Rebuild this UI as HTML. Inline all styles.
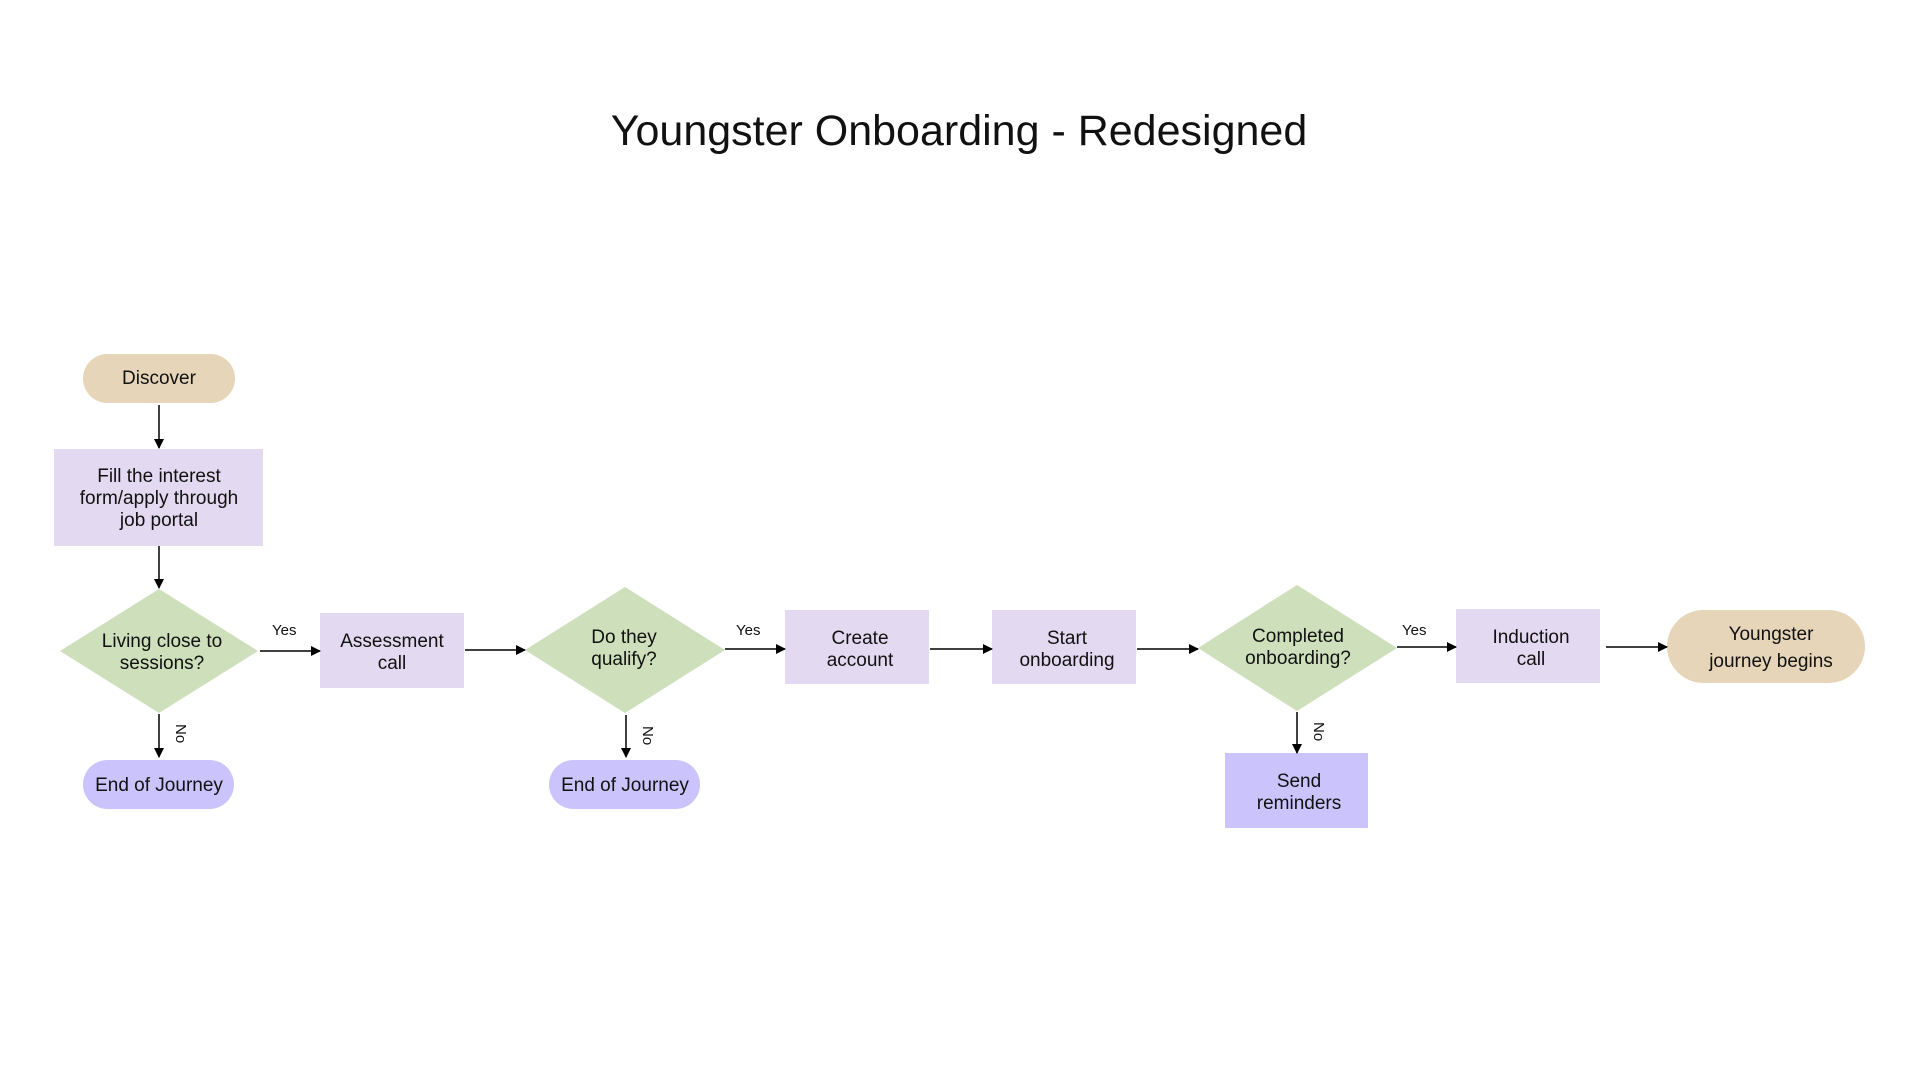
<!DOCTYPE html>
<html><head><meta charset="utf-8"><style>
body{margin:0;width:1920px;height:1080px;background:#fff;overflow:hidden}
svg text{font-family:"Liberation Sans",sans-serif;fill:#111}
</style></head><body>
<svg width="1920" height="1080" viewBox="0 0 1920 1080">
<defs><marker id="a" markerWidth="10" markerHeight="10" refX="9" refY="5" orient="auto" markerUnits="userSpaceOnUse"><path d="M0,0 L10,5 L0,10 z" fill="#000"/></marker></defs>
<text x="959" y="145" font-size="43" text-anchor="middle">Youngster Onboarding - Redesigned</text>
<g font-size="19" text-anchor="middle">
<rect x="83" y="354" width="152" height="49" rx="24.5" fill="#e6d5b8"/><text x="159" y="384">Discover</text>
<rect x="54" y="449" width="209" height="97" fill="#e3d9f0"/><text x="159" y="482">Fill the interest</text><text x="159" y="504">form/apply through</text><text x="159" y="526">job portal</text>
<polygon points="159,589 258,651 159,713 60,651" fill="#cddfbb"/><text x="162" y="647">Living close to</text><text x="162" y="669">sessions?</text>
<rect x="320" y="613" width="144" height="75" fill="#e3d9f0"/><text x="392" y="647">Assessment</text><text x="392" y="669">call</text>
<polygon points="625,587 725,650 625,713 525,650" fill="#cddfbb"/><text x="624" y="643">Do they</text><text x="624" y="665">qualify?</text>
<rect x="785" y="610" width="144" height="74" fill="#e3d9f0"/><text x="860" y="644">Create</text><text x="860" y="666">account</text>
<rect x="992" y="610" width="144" height="74" fill="#e3d9f0"/><text x="1067" y="644">Start</text><text x="1067" y="666">onboarding</text>
<polygon points="1297,585 1397,648 1297,711 1198,648" fill="#cddfbb"/><text x="1298" y="642">Completed</text><text x="1298" y="664">onboarding?</text>
<rect x="1456" y="609" width="144" height="74" fill="#e3d9f0"/><text x="1531" y="643">Induction</text><text x="1531" y="665">call</text>
<rect x="1667" y="610" width="198" height="73" rx="36.5" fill="#e6d5b8"/><text x="1771" y="640">Youngster</text><text x="1771" y="667">journey begins</text>
<rect x="83" y="760" width="151" height="49" rx="24.5" fill="#cbc3fb"/><text x="159" y="791">End of Journey</text>
<rect x="549" y="760" width="151" height="49" rx="24.5" fill="#cbc3fb"/><text x="625" y="791">End of Journey</text>
<rect x="1225" y="753" width="143" height="75" fill="#cbc3fb"/><text x="1299" y="787">Send</text><text x="1299" y="809">reminders</text>
</g>
<g stroke="#000" stroke-width="1.5" marker-end="url(#a)">
<line x1="159" y1="405" x2="159" y2="448"/>
<line x1="159" y1="546" x2="159" y2="588"/>
<line x1="260" y1="651" x2="320" y2="651"/>
<line x1="465" y1="650" x2="525" y2="650"/>
<line x1="725" y1="649" x2="785" y2="649"/>
<line x1="930" y1="649" x2="992" y2="649"/>
<line x1="1137" y1="649" x2="1198" y2="649"/>
<line x1="1397" y1="647" x2="1456" y2="647"/>
<line x1="1606" y1="647" x2="1667" y2="647"/>
<line x1="159" y1="714" x2="159" y2="757"/>
<line x1="626" y1="715" x2="626" y2="757"/>
<line x1="1297" y1="712" x2="1297" y2="753"/>
</g>
<g font-size="15">
<text x="272" y="635">Yes</text><text x="736" y="635">Yes</text><text x="1402" y="635">Yes</text>
<text transform="translate(176,724) rotate(90)">No</text>
<text transform="translate(643,726) rotate(90)">No</text>
<text transform="translate(1314,722) rotate(90)">No</text>
</g>
</svg>
</body></html>
